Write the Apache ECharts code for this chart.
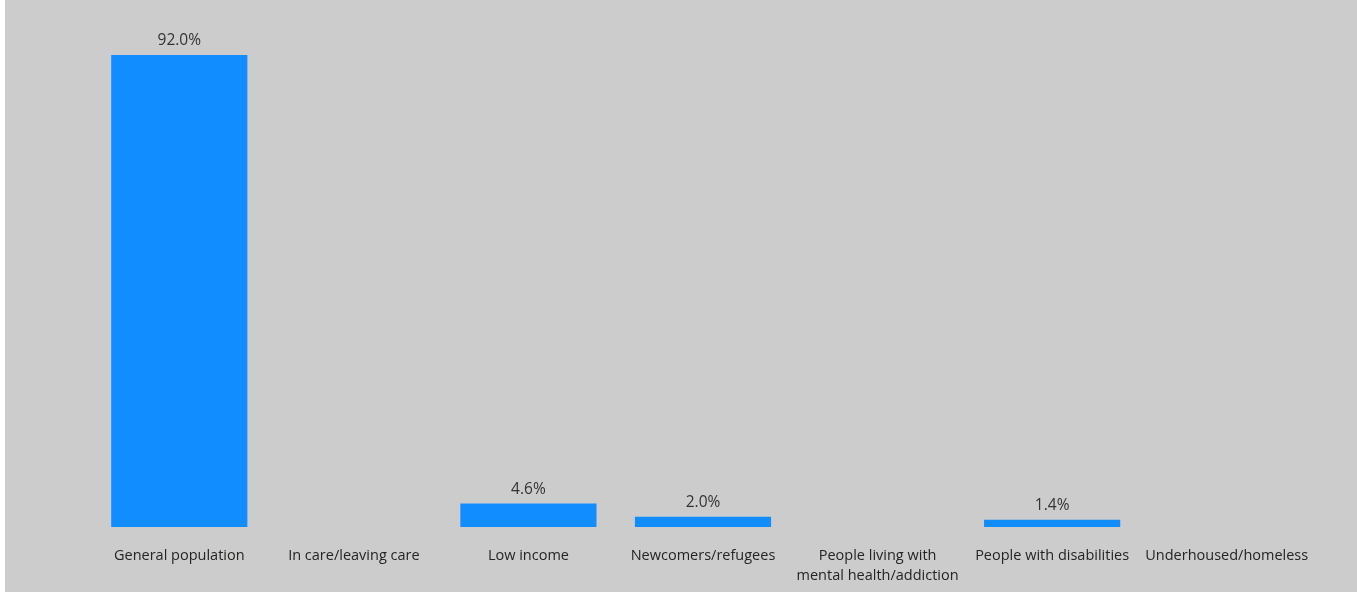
<!DOCTYPE html>
<html>
<head>
<meta charset="utf-8">
<script src="https://cdn.jsdelivr.net/npm/echarts@6/dist/echarts.min.js"></script>
<style>
  html, body { margin: 0; padding: 0; background: #ffffff; }
  #chart { position: absolute; left: 5px; top: 0; width: 1352px; height: 592px; background: #cccccc; }
</style>
</head>
<body>
<div id="chart"></div>
<script>
// Share of participants by population group (%)
const categories = [
  'General population',
  'In care/leaving care',
  'Low income',
  'Newcomers/refugees',
  'People living with\nmental health/addiction',
  'People with disabilities',
  'Underhoused/homeless'
];
const shares = [92.0, null, 4.6, 2.0, null, 1.4, null];

const chart = echarts.init(document.getElementById('chart'), null, { renderer: 'canvas' });
chart.setOption({
  backgroundColor: '#cccccc',
  animation: false,
  grid: { left: 87, right: 43, top: 14, bottom: 65 },
  xAxis: {
    type: 'category',
    data: categories,
    axisLine: { show: false },
    axisTick: { show: false },
    axisLabel: {
      interval: 0,
      margin: 19,
      color: '#252423',
      fontFamily: '"Open Sans", "Noto Sans", sans-serif',
      fontSize: 14.5,
      lineHeight: 20
    }
  },
  yAxis: {
    type: 'value',
    min: 0,
    max: 100,
    show: false,
    splitLine: { show: false }
  },
  series: [{
    type: 'bar',
    data: shares,
    barWidth: '78%',
    itemStyle: { color: '#118dff' },
    label: {
      show: true,
      position: 'top',
      distance: 6,
      color: '#333333',
      fontFamily: '"Open Sans", "Noto Sans", sans-serif',
      fontSize: 15.5,
      formatter: p => p.value == null ? '' : p.value.toFixed(1) + '%'
    }
  }]
});
</script>
</body>
</html>
